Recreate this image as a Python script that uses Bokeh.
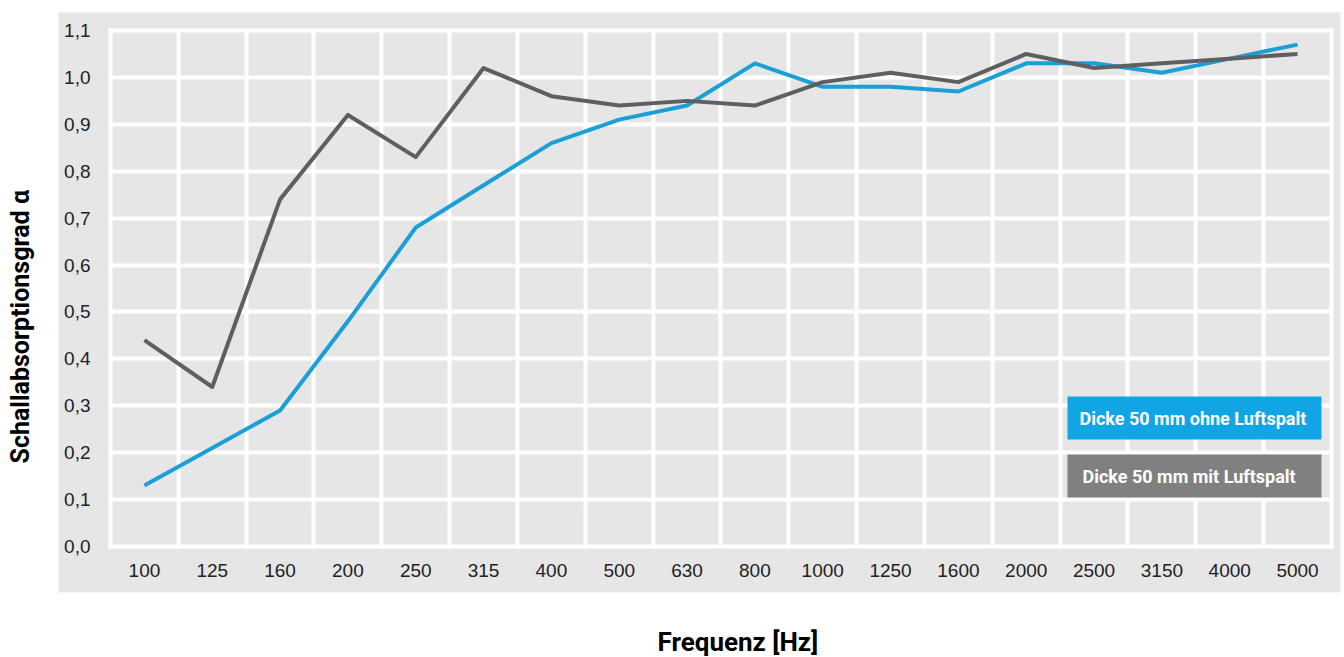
from bokeh.plotting import figure
from bokeh.models import (Range1d, FixedTicker, LinearAxis, Grid, BoxAnnotation, Label, Title)
from bokeh.embed import file_html
from bokeh.resources import INLINE

# ---- data ----
frequencies = ["100", "125", "160", "200", "250", "315", "400", "500", "630",
               "800", "1000", "1250", "1600", "2000", "2500", "3150", "4000", "5000"]
ohne_luftspalt = [0.13, 0.21, 0.29, 0.48, 0.68, 0.77, 0.86, 0.91, 0.94,
                  1.03, 0.98, 0.98, 0.97, 1.03, 1.03, 1.01, 1.04, 1.07]
mit_luftspalt = [0.44, 0.34, 0.74, 0.92, 0.83, 1.02, 0.96, 0.94, 0.95,
                 0.94, 0.99, 1.01, 0.99, 1.05, 1.02, 1.03, 1.04, 1.05]
y_ticks = [round(i * 0.1, 1) for i in range(12)]
y_tick_labels = ["0,0", "0,1", "0,2", "0,3", "0,4", "0,5", "0,6", "0,7", "0,8", "0,9", "1,0", "1,1"]
series_names = ["Dicke 50 mm ohne Luftspalt", "Dicke 50 mm mit Luftspalt"]
y_label = "Schallabsorptionsgrad \u03b1"
x_label = "Frequenz [Hz]"

# ---- styling ----
PANEL = "#e6e6e6"
BLUE_LINE = "#1a9fd6"
GRAY_LINE = "#5f5f62"
BLUE_BOX = "#12a5e6"
GRAY_BOX = "#808080"
FONT = "Liberation Sans"
BOLD_FONT = "Roboto"

x_idx = list(range(len(frequencies)))
n = len(frequencies)

p = figure(width=1344, height=657, output_backend="svg", toolbar_location=None,
           x_range=Range1d(-1.2666, n - 0.5 + 0.133),
           y_range=Range1d(-0.0981, 1.1384),
           x_axis_type=None, y_axis_type=None,
           min_border_left=58, min_border_right=4, min_border_top=12, min_border_bottom=65)
p.background_fill_color = PANEL
p.border_fill_color = "white"
p.outline_line_color = None

# tick-label axes placed inside the grey panel
def style_axis(ax, standoff):
    ax.axis_line_color = None
    ax.major_tick_line_color = None
    ax.minor_tick_line_color = None
    ax.major_tick_out = 0
    ax.major_tick_in = 0
    ax.major_label_standoff = standoff
    ax.major_label_text_font = FONT
    ax.major_label_text_font_size = "19px"
    ax.major_label_text_color = "#222222"

yaxis = LinearAxis(ticker=FixedTicker(ticks=y_ticks), fixed_location=-0.5)
yaxis.major_label_overrides = {t: l for t, l in zip(y_ticks, y_tick_labels)}
style_axis(yaxis, 20)
p.add_layout(yaxis, "left")

xaxis = LinearAxis(ticker=FixedTicker(ticks=x_idx), fixed_location=0)
xaxis.major_label_overrides = {i: f for i, f in zip(x_idx, frequencies)}
style_axis(xaxis, 18)
p.add_layout(xaxis, "below")

# invisible spacer axes between the grey panel and the axis titles
def spacer(gap):
    ax = LinearAxis(ticker=FixedTicker(ticks=[], minor_ticks=[]))
    ax.axis_line_color = None
    ax.major_tick_line_color = None
    ax.minor_tick_line_color = None
    ax.major_tick_out = 0
    ax.major_tick_in = 0
    ax.axis_label = "."
    ax.axis_label_text_alpha = 0
    ax.axis_label_text_font_size = "2px"
    ax.axis_label_standoff = gap - 2
    return ax

p.add_layout(spacer(21), "left")
p.add_layout(spacer(31), "below")

# white grid confined to the data area
xgrid = Grid(dimension=0, ticker=FixedTicker(ticks=[i - 0.5 for i in range(n + 1)]),
             grid_line_color="white", grid_line_width=4, grid_line_cap="square",
             cross_bounds=(0, y_ticks[-1]))
ygrid = Grid(dimension=1, ticker=FixedTicker(ticks=y_ticks),
             grid_line_color="white", grid_line_width=4, grid_line_cap="square",
             cross_bounds=(-0.5, n - 0.5))
p.add_layout(xgrid)
p.add_layout(ygrid)

# data lines
r_blue = p.line(x_idx, ohne_luftspalt, line_color=BLUE_LINE, line_width=4, line_join="round")
r_gray = p.line(x_idx, mit_luftspalt, line_color=GRAY_LINE, line_width=4, line_join="round")

# legend boxes (screen units, relative to the panel's bottom-left)
def legend_entry(name, color, left, bottom, text_dx):
    box = BoxAnnotation(left=left, right=left + 254, bottom=bottom, top=bottom + 43,
                        left_units="screen", right_units="screen",
                        bottom_units="screen", top_units="screen",
                        fill_color=color, fill_alpha=1.0, line_color=None)
    p.add_layout(box)
    lab = Label(x=left + text_dx, y=bottom + 21.5, x_units="screen", y_units="screen",
                text=name, text_color="white", text_font=BOLD_FONT,
                text_font_style="bold", text_font_size="18px",
                text_align="left", text_baseline="middle")
    p.add_layout(lab)

legend_entry(series_names[0], BLUE_BOX, 1009, 153, 12)
legend_entry(series_names[1], GRAY_BOX, 1009, 95, 15)

# axis titles outside the grey panel
ytitle = Title(text=y_label, align="left", offset=129, vertical_align="middle",
               standoff=0, text_font=BOLD_FONT, text_font_style="bold",
               text_font_size="25px", text_color="black")
p.add_layout(ytitle, "left")
xtitle = Title(text=x_label, align="left", offset=599, vertical_align="middle",
               standoff=0, text_font=BOLD_FONT, text_font_style="bold",
               text_font_size="26px", text_color="black")
p.add_layout(xtitle, "below")

open("out.html", "w").write(file_html(p, INLINE))
